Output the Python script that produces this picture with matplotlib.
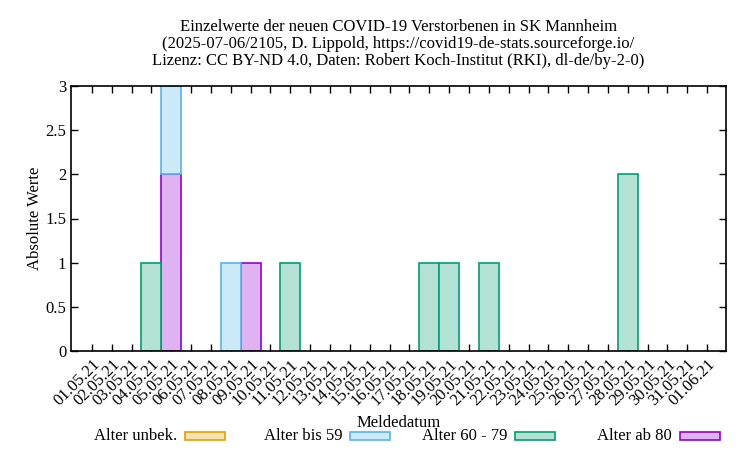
import matplotlib
matplotlib.use("Agg")
import matplotlib.pyplot as plt
import numpy as np
from matplotlib.patches import Rectangle

dates = ["01.05.21", "02.05.21", "03.05.21", "04.05.21", "05.05.21", "06.05.21",
         "07.05.21", "08.05.21", "09.05.21", "10.05.21", "11.05.21", "12.05.21",
         "13.05.21", "14.05.21", "15.05.21", "16.05.21", "17.05.21", "18.05.21",
         "19.05.21", "20.05.21", "21.05.21", "22.05.21", "23.05.21", "24.05.21",
         "25.05.21", "26.05.21", "27.05.21", "28.05.21", "29.05.21", "30.05.21",
         "31.05.21", "01.06.21"]
alter_unbek = [0]*32
alter_bis59 = [0, 0, 0, 0, 1, 0, 0, 1, 0, 0, 0, 0, 0, 0, 0, 0,
               0, 0, 0, 0, 0, 0, 0, 0, 0, 0, 0, 0, 0, 0, 0, 0]
alter_60_79 = [0, 0, 0, 1, 0, 0, 0, 0, 0, 0, 1, 0, 0, 0, 0, 0,
               0, 1, 1, 0, 1, 0, 0, 0, 0, 0, 0, 2, 0, 0, 0, 0]
alter_ab80 = [0, 0, 0, 0, 2, 0, 0, 0, 1, 0, 0, 0, 0, 0, 0, 0,
              0, 0, 0, 0, 0, 0, 0, 0, 0, 0, 0, 0, 0, 0, 0, 0]

series_labels = ["Alter unbek.", "Alter bis 59", "Alter 60 - 79", "Alter ab 80"]
edge_colors = ["#E69F00", "#56B4E9", "#009E73", "#9400D3"]

plt.rcParams['font.family'] = ['Liberation Serif', 'DejaVu Serif']
FS = 12

fig = plt.figure(figsize=(7.5, 4.5), dpi=100)
ax = fig.add_axes([71/750, 1-351/450, (726-71)/750, (351-86)/450])

x = np.arange(len(dates))

def fill_of(c):
    rgb = np.array(matplotlib.colors.to_rgb(c))
    return tuple(0.3*rgb + 0.7)

# stacking order: ab 80 bottom, 60-79, bis 59, unbek on top
order = [3, 2, 1, 0]
data = [alter_unbek, alter_bis59, alter_60_79, alter_ab80]
bottom = np.zeros(len(dates))
for i in order:
    vals = np.array(data[i], dtype=float)
    mask = vals > 0
    ax.bar(x[mask], vals[mask], width=1.0, bottom=bottom[mask],
           color=fill_of(edge_colors[i]), edgecolor=edge_colors[i], linewidth=1.2,
           zorder=2)
    bottom += vals

ax.set_xlim(-1.05, 31.95)
ax.set_ylim(0, 3)
ax.set_xticks(x)
ax.set_xticklabels(dates, rotation=45, ha='right', rotation_mode='anchor', fontsize=FS)
ax.set_yticks([0, 0.5, 1, 1.5, 2, 2.5, 3])
ax.set_yticklabels(["0", "0.5", "1", "1.5", "2", "2.5", "3"], fontsize=FS)
ax.tick_params(axis='both', direction='in', length=5, width=1.0, top=True, right=True,
               colors='black')
ax.tick_params(axis='x', pad=4)
for s in ax.spines.values():
    s.set_linewidth(1.2)
    s.set_zorder(3)

fig.text(398.5/750, 1-44/450,
         "Einzelwerte der neuen COVID-19 Verstorbenen in SK Mannheim\n"
         "(2025-07-06/2105, D. Lippold, https://covid19-de-stats.sourceforge.io/\n"
         "Lizenz: CC BY-ND 4.0, Daten: Robert Koch-Institut (RKI), dl-de/by-2-0)",
         ha='center', va='center', fontsize=FS, linespacing=1.1)
fig.text(35/750, 1-218/450, "Absolute Werte", rotation=90, ha='center', va='center', fontsize=FS)
fig.text(398.5/750, 1-423/450, "Meldedatum", ha='center', va='center', fontsize=FS)

box_lefts = [185, 350, 515, 680]
for lbl, c, bl in zip(series_labels, edge_colors, box_lefts):
    fig.text((bl-8)/750, 1-436/450, lbl, ha='right', va='center', fontsize=FS)
    fig.patches.append(Rectangle((bl/750, 1-440/450), 40/750, 8/450, transform=fig.transFigure,
                                 facecolor=fill_of(c), edgecolor=c, linewidth=1.2))

fig.savefig("out.png", dpi=100)
